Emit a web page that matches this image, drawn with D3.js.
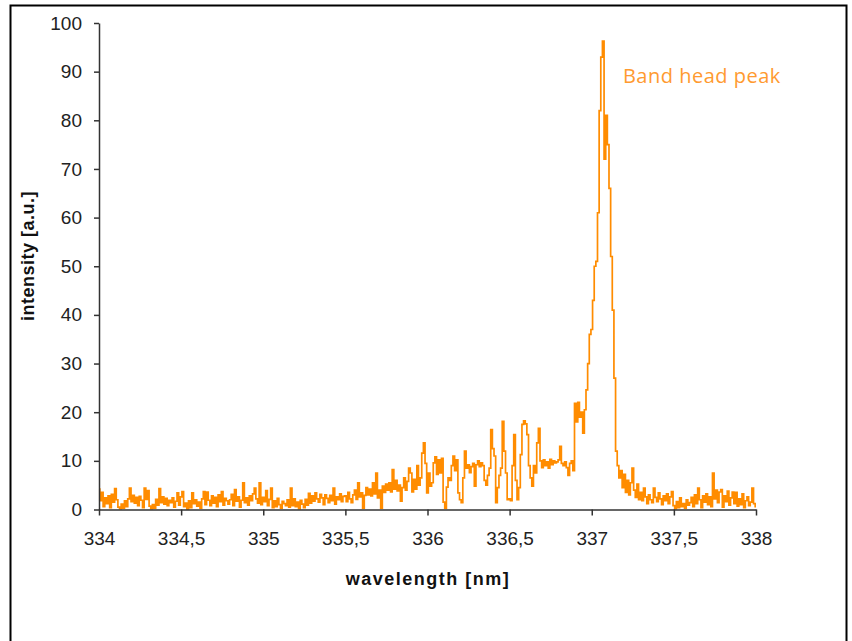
<!DOCTYPE html>
<html>
<head>
<meta charset="utf-8">
<script src="https://cdn.jsdelivr.net/npm/d3@7"></script>
<style>
  html, body { margin: 0; padding: 0; background: #fff; }
  svg { display: block; }
</style>
</head>
<body>
<svg id="chart" width="852" height="641"></svg>
<script>
// spectrum sampled every 0.01 nm starting at 334 nm
const wlStart = 334;
const wlStep = 0.01;

const intensity = [
  // 334.0 - 334.49
  4.2, 1.8, 3.5, 0.6, 2.4, 1.2, 2.8, 0.4, 3.1, 1.5,
  4.3, 2.0, 0.5, 0.2, 1.1, 0.3, 1.8, 0.6, 2.2, 4.4,
  1.6, 2.9, 1.3, 2.5, 0.8, 2.7, 1.9, 0.4, 4.4, 2.1,
  3.9, 0.7, 0.2, 1.0, 0.3, 2.1, 0.9, 4.3, 1.4, 2.6,
  1.1, 2.3, 0.8, 1.9, 1.4, 2.4, 0.5, 1.7, 3.4, 0.9,
  // 334.5 - 334.99
  2.6, 3.7, 0.6, 1.3, 0.1, 1.8, 0.4, 3.4, 1.2, 2.0,
  0.7, 1.5, 0.3, 2.2, 3.7, 1.0, 3.6, 1.9, 0.8, 2.8,
  1.3, 2.5, 0.6, 3.0, 1.6, 3.7, 0.9, 2.3, 1.8, 1.1,
  2.0, 3.1, 0.8, 4.1, 1.7, 2.6, 0.5, 1.9, 5.5, 1.4,
  2.4, 0.9, 2.8, 1.8, 3.2, 4.4, 2.2, 1.3, 5.5, 1.0,
  // 335.0 - 335.49
  2.5, 1.6, 3.9, 0.8, 2.1, 4.4, 0.4, 1.8, 0.6, 2.3,
  1.0, 0.3, 1.7, 1.2, 0.8, 2.0, 0.5, 4.4, 0.8, 2.2,
  0.6, 1.5, 0.2, 1.9, 1.1, 0.4, 2.1, 0.9, 3.3, 1.3,
  2.8, 1.7, 3.4, 2.2, 1.5, 3.1, 2.4, 1.0, 3.0, 2.3,
  1.4, 2.9, 1.8, 4.4, 1.1, 2.6, 2.0, 3.2, 1.6, 2.7,
  // 335.5 - 335.99
  2.8, 1.6, 3.5, 2.2, 1.4, 3.0, 4.0, 2.1, 5.5, 2.6,
  3.4, 0.3, 2.9, 4.5, 3.0, 4.2, 2.8, 5.5, 3.2, 7.5,
  2.4, 4.0, 0.3, 4.8, 3.5, 5.2, 4.0, 5.5, 3.6, 8.2,
  4.2, 6.0, 3.8, 5.0, 1.7, 4.5, 6.5, 4.0, 5.8, 8.5,
  7.5, 3.6, 6.2, 4.2, 9.0, 5.0, 6.5, 11.6, 13.7, 9.5,
  // 336.0 - 336.49
  3.4, 7.5, 4.8, 5.5, 9.6, 10.8, 7.2, 10.2, 7.5, 10.5,
  1.5, 0.3, 4.6, 6.5, 6.0, 9.0, 11.0, 8.0, 10.2, 3.4,
  2.0, 1.4, 6.5, 12.0, 8.5, 9.2, 7.6, 8.8, 9.5, 4.8,
  9.2, 10.0, 8.8, 9.6, 9.0, 6.0, 5.0, 7.0, 8.5, 16.4,
  12.5, 11.0, 1.4, 4.5, 7.0, 8.5, 18.1, 12.0, 7.5, 2.0,
  // 336.5 - 336.99
  2.2, 1.8, 9.0, 15.4, 6.0, 2.0, 4.5, 11.3, 17.5, 18.2,
  17.6, 15.4, 9.0, 6.5, 4.8, 9.0, 7.5, 13.7, 16.7, 10.0,
  8.6, 10.2, 9.0, 9.8, 8.5, 10.3, 9.2, 10.0, 9.6, 9.8,
  10.2, 13.0, 9.5, 9.0, 9.8, 8.6, 7.0, 9.5, 10.0, 8.0,
  21.8, 18.0, 22.0, 19.0, 20.0, 15.7, 20.5, 24.6, 30.0, 36.0,
  // 337.0 - 337.49
  37.0, 43.0, 50.0, 51.0, 61.0, 82.0, 93.0, 96.3, 72.0, 81.0,
  75.0, 66.0, 52.0, 41.0, 27.0, 12.0, 9.0, 6.5, 8.0, 4.5,
  7.2, 3.5, 6.0, 3.0, 5.5, 8.5, 4.0, 2.5, 5.2, 2.0,
  3.5, 1.8, 4.4, 2.6, 1.2, 3.0, 2.0, 1.4, 4.4, 2.5,
  1.6, 3.4, 2.2, 1.0, 2.8, 1.8, 3.2, 1.2, 2.6, 3.7,
  // 337.5 - 338.0
  0.8, 0.2, 1.6, 0.4, 2.4, 0.6, 1.2, 0.3, 2.0, 0.9,
  1.4, 2.5, 0.6, 3.0, 1.2, 4.4, 2.0, 0.4, 2.8, 1.5,
  3.2, 1.0, 2.6, 0.6, 7.5, 2.2, 4.0, 1.4, 3.6, 4.1,
  0.5, 2.8, 1.6, 3.8, 0.9, 2.4, 3.6, 1.2, 3.5, 0.7,
  2.2, 1.0, 3.2, 0.4, 1.8, 2.6, 0.8, 1.5, 4.4, 1.2,
  0.6
];

const xTicks = [334, 334.5, 335, 335.5, 336, 336.5, 337, 337.5, 338];
const yTicks = [0, 10, 20, 30, 40, 50, 60, 70, 80, 90, 100];

const annotation = { text: "Band head peak", wl: 337.19, value: 87.7 };

const spectrum = intensity.map((v, i) => ({ wl: wlStart + i * wlStep, v: v }));

const svg = d3.select("#chart");

// comma as decimal separator
const locale = d3.formatLocale({ decimal: ",", thousands: ".", grouping: [3], currency: ["", ""] });
const fmt = locale.format("~g");

const x = d3.scaleLinear().domain([334, 338]).range([99, 756]);
const y = d3.scaleLinear().domain([0, 100]).range([509.5, 23]);

// outer frame
svg.append("rect")
  .attr("x", 10.5).attr("y", 5.5)
  .attr("width", 836).attr("height", 700)
  .attr("fill", "none")
  .attr("stroke", "#000")
  .attr("stroke-width", 2);

// data line
svg.append("path")
  .datum(spectrum)
  .attr("fill", "none")
  .attr("stroke", "#ff8c00")
  .attr("stroke-width", 1.7)
  .attr("d", d3.line().curve(d3.curveStep).x(d => x(d.wl)).y(d => y(d.v)));

// axes
const tickFont = "'Liberation Sans', Arial, sans-serif";

const yAxis = svg.append("g")
  .attr("transform", `translate(${x(334)},0)`)
  .call(d3.axisLeft(y).tickValues(yTicks).tickSize(5).tickSizeOuter(0).tickPadding(12).tickFormat(fmt));

const xAxis = svg.append("g")
  .attr("transform", `translate(0,${y(0)})`)
  .call(d3.axisBottom(x).tickValues(xTicks).tickSize(6).tickSizeOuter(0).tickPadding(16).tickFormat(fmt));

[yAxis, xAxis].forEach(g => {
  g.select(".domain").attr("stroke", "#333").attr("stroke-width", 1.5);
  g.selectAll(".tick line").attr("stroke", "#333").attr("stroke-width", 1.5);
  g.selectAll(".tick text")
    .attr("fill", "#222")
    .style("font-family", tickFont)
    .style("font-size", "19px");
});

// axis titles
svg.append("text")
  .attr("x", 428).attr("y", 585)
  .attr("text-anchor", "middle")
  .style("font-family", tickFont)
  .style("font-size", "18px")
  .style("font-weight", "bold")
  .style("letter-spacing", "1.5px")
  .attr("fill", "#111")
  .text("wavelength [nm]");

svg.append("text")
  .attr("transform", `translate(34,256) rotate(-90)`)
  .attr("text-anchor", "middle")
  .style("font-family", tickFont)
  .style("font-size", "18px")
  .style("font-weight", "bold")
  .style("letter-spacing", "0.5px")
  .attr("fill", "#111")
  .text("intensity [a.u.]");

// annotation
svg.append("text")
  .attr("x", x(annotation.wl)).attr("y", y(annotation.value))
  .style("font-family", "'Open Sans', 'Noto Sans', sans-serif")
  .style("font-size", "20px")
  .style("letter-spacing", "0.5px")
  .attr("fill", "#ff9a30")
  .text(annotation.text);
</script>
</body>
</html>
